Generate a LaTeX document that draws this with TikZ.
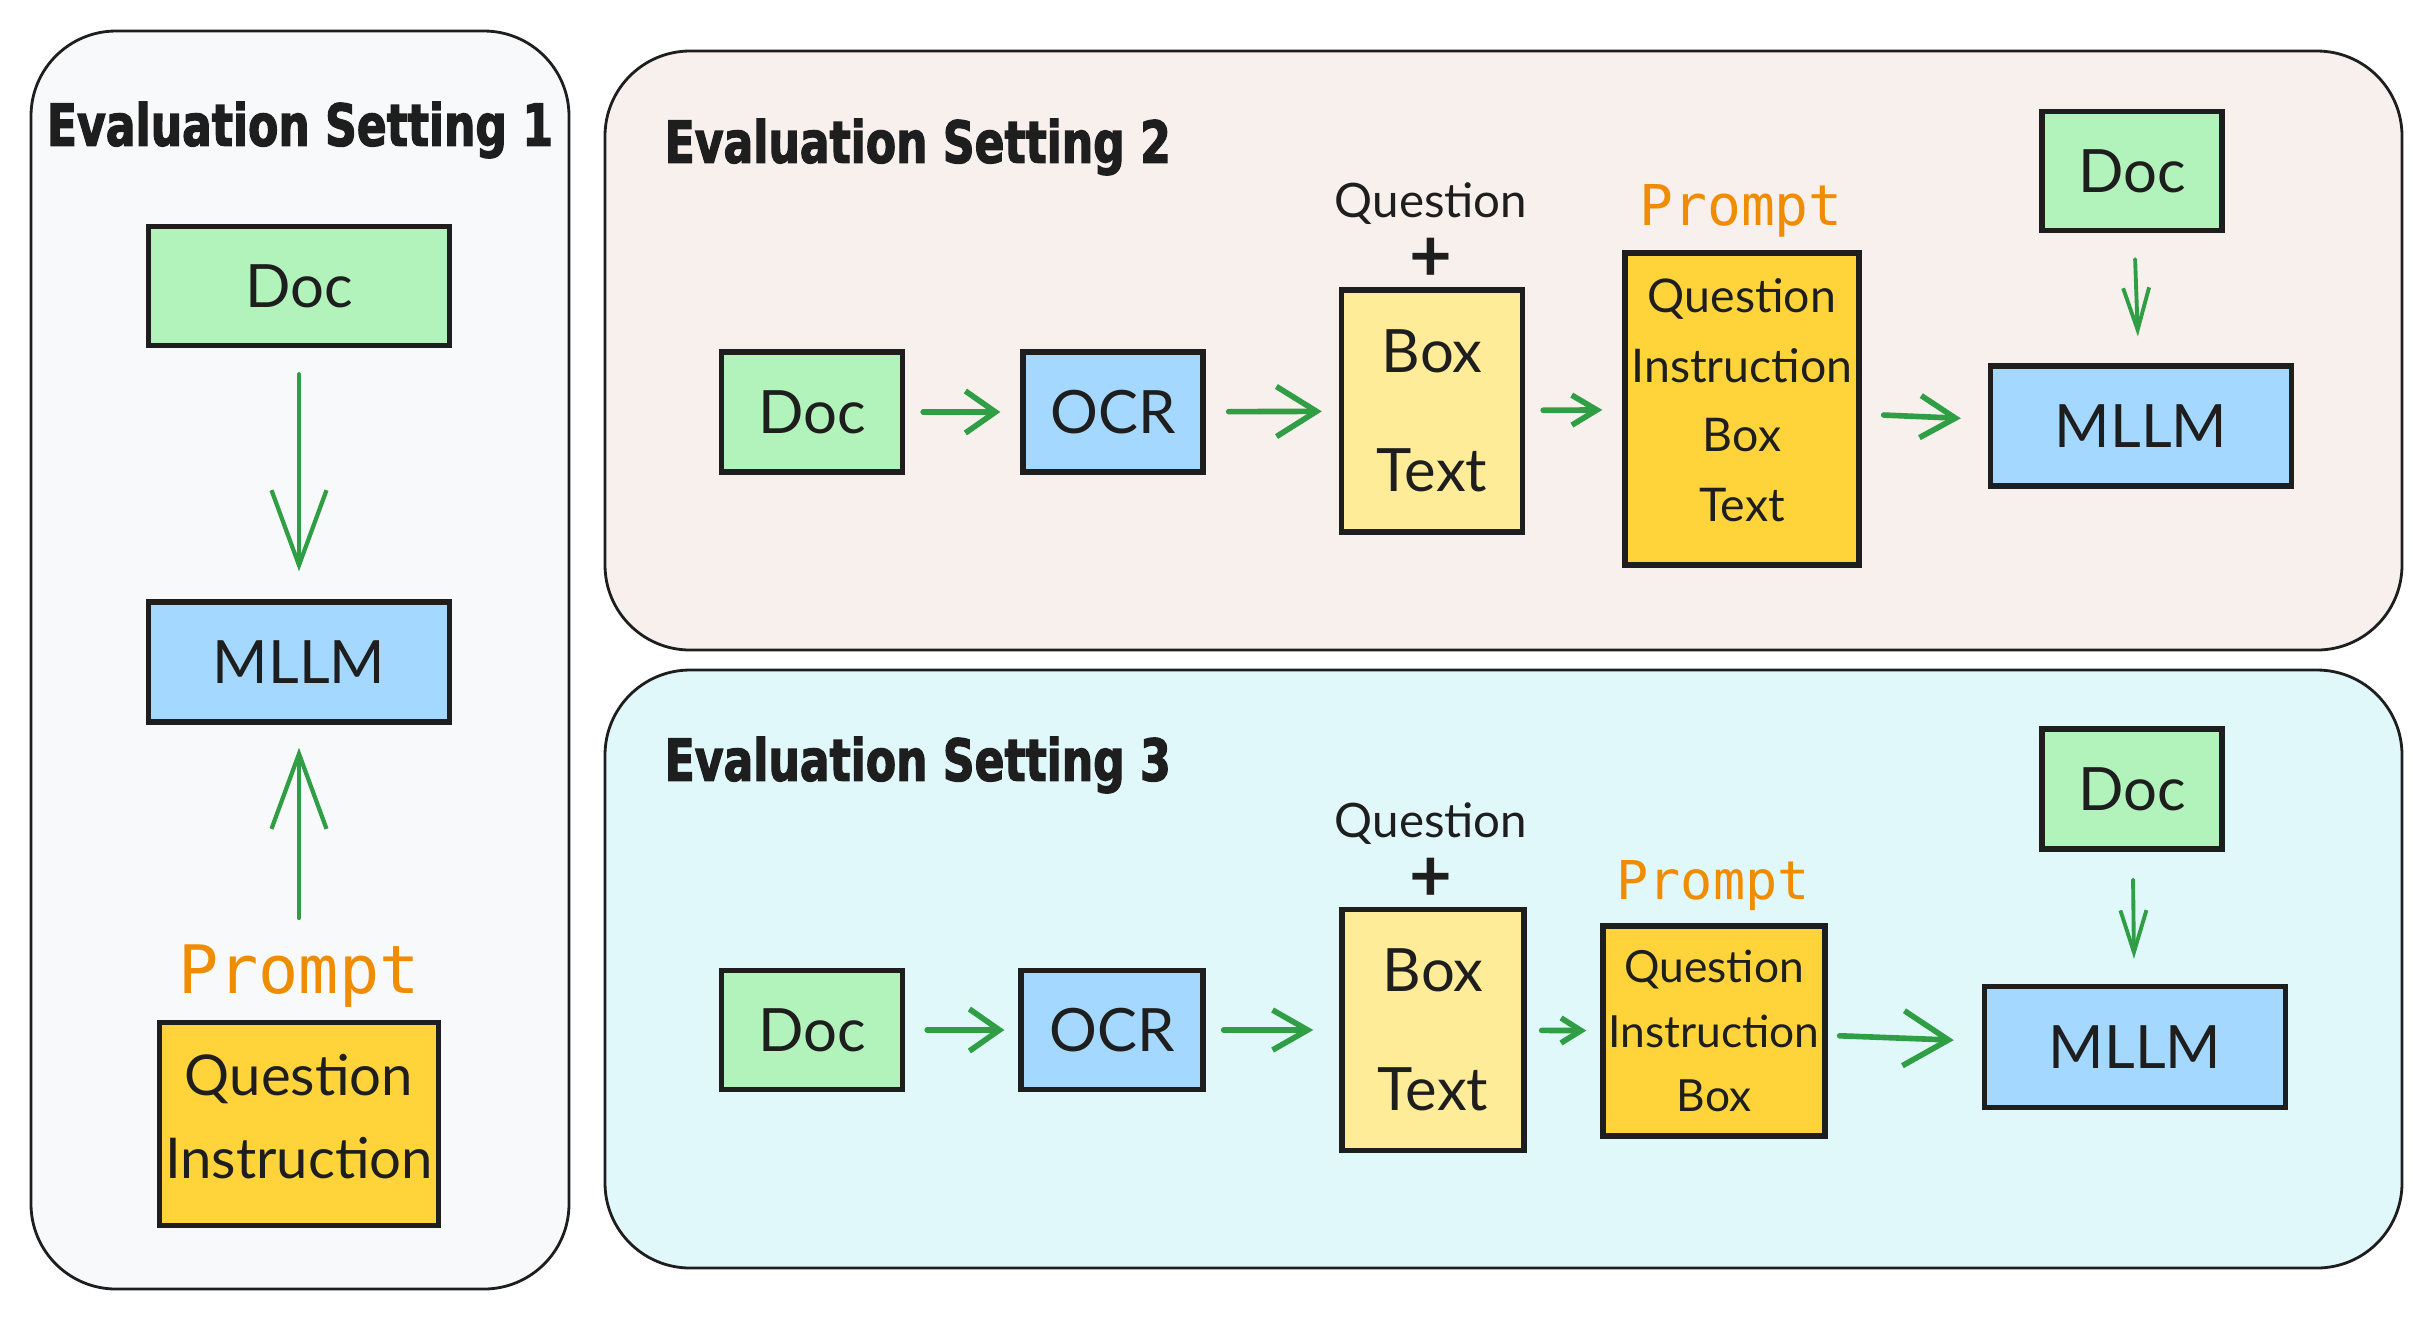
\documentclass[tikz,border=0pt]{standalone}
\usepackage{fontspec}
\setmainfont{Lato}
\newfontfamily\titlefont{DejaVu Sans}[FakeStretch=0.76, BoldFeatures={FakeBold=2}]
\newfontfamily\promptfont{DejaVu Sans Mono}
\usetikzlibrary{arrows.meta}

\definecolor{ink}{HTML}{1E1E1E}
\definecolor{docgreen}{HTML}{B2F2BB}
\definecolor{llmblue}{HTML}{A5D8FF}
\definecolor{pairyellow}{HTML}{FFEC99}
\definecolor{promptyellow}{HTML}{FFD43B}
\definecolor{flowgreen}{HTML}{2F9E44}
\definecolor{promptorange}{HTML}{F08C00}
\definecolor{panelgrey}{HTML}{F8F9FA}
\definecolor{panelrose}{HTML}{F8F0ED}
\definecolor{panelcyan}{HTML}{E0F8FA}

\begin{document}
\begin{tikzpicture}[x=0.01cm, y=-0.01cm,
    box/.style={draw=ink, line width=1.5pt, inner sep=0pt, align=center, text=ink},
    doc/.style={box, fill=docgreen, font=\fontsize{17}{20}\selectfont},
    model/.style={box, fill=llmblue, font=\fontsize{17}{20}\selectfont},
    pair/.style={box, fill=pairyellow, font=\fontsize{17}{34}\selectfont},
    prompt/.style={box, fill=promptyellow},
    plabel/.style={text=promptorange, inner sep=0pt},
    above/.style={text=ink, align=center, inner sep=0pt, font=\fontsize{13.5}{15}\selectfont},
    title/.style={text=ink, inner sep=0pt, font=\titlefont\bfseries\fontsize{16.5}{18}\selectfont},
    panel/.style={draw=ink, line width=0.8pt, rounded corners=0.85cm},
    flow/.style={draw=flowgreen, line width=1.6pt, line cap=round,
        shorten <=0.18cm, shorten >=0.2cm, -{Straight Barb[length=0.3cm, width=0.42cm]}},
    drop/.style={flow, line width=1.1pt, shorten <=0.26cm, shorten >=0.27cm,
        -{Straight Barb[length=0.42cm, width=0.26cm]}}]
    \useasboundingbox (0,0) rectangle (2433,1320);

    % Panels
    \draw[panel, fill=panelgrey] (31,31) rectangle (569,1289);
    \draw[panel, fill=panelrose] (605,51) rectangle (2402,650);
    \draw[panel, fill=panelcyan] (605,670) rectangle (2402,1268);

    % Setting 1
    \node[title] (t1) at (300,130) {Evaluation Setting 1};
    \node[doc, minimum width=3.01cm, minimum height=1.19cm] (doc1) at (299,286) {Doc};
    \node[model, minimum width=3.01cm, minimum height=1.2cm] (llm1) at (299,662) {MLLM};
    \node[plabel, font=\promptfont\fontsize{19}{21}\selectfont] (p1) at (299,976) {Prompt};
    \node[prompt, minimum width=2.79cm, minimum height=2.03cm, text depth=0.16cm,
        font=\fontsize{16}{23.6}\selectfont] (qi1) at (299,1124) {Question\\Instruction};
    \draw[drop, line width=1.2pt, shorten >=0.28cm,
        -{Straight Barb[length=0.75cm, width=0.55cm]}] (doc1) -- (llm1);
    \draw[drop, line width=1.2pt, shorten <=0.26cm, shorten >=0.23cm,
        -{Straight Barb[length=0.75cm, width=0.55cm]}] (p1) -- (llm1);

    % Setting 2
    \node[title, anchor=west] (t2) at (664,147) {Evaluation Setting 2};
    \node[doc, minimum width=1.81cm, minimum height=1.2cm] (doc2) at (812,412) {Doc};
    \node[model, minimum width=1.8cm, minimum height=1.2cm] (ocr2) at (1113,412) {OCR};
    \node[pair, minimum width=1.81cm, minimum height=2.42cm] (bt2) at (1432,411) {Box\\Text};
    \node[above] (q2) at (1431,232) {Question\\[3pt]{\bfseries\fontsize{21}{15}\selectfont +}};
    \node[plabel, font=\promptfont\fontsize{16}{18}\selectfont] (p2) at (1741,211) {Prompt};
    \node[prompt, minimum width=2.34cm, minimum height=3.12cm, text depth=0.18cm,
        font=\fontsize{13.2}{19.8}\selectfont] (pr2) at (1742,409) {Question\\Instruction\\Box\\Text};
    \node[doc, minimum width=1.8cm, minimum height=1.19cm] (img2) at (2132,171) {Doc};
    \node[model, minimum width=3.01cm, minimum height=1.2cm] (llm2) at (2141,426) {MLLM};
    \draw[flow] (doc2) -- (ocr2);
    \draw[flow, shorten <=0.23cm, shorten >=0.17cm, -{Straight Barb[length=0.4cm, width=0.5cm]}] (ocr2) -- (bt2);
    \draw[flow, -{Straight Barb[length=0.25cm, width=0.3cm]}] (bt2) -- (pr2);
    \draw[flow, shorten <=0.22cm, shorten >=0.27cm, -{Straight Barb[length=0.35cm, width=0.42cm]}] (pr2) -- (llm2);
    \draw[drop] (img2) -- (llm2);

    % Setting 3
    \node[title, anchor=west] (t3) at (664,765) {Evaluation Setting 3};
    \node[doc, minimum width=1.81cm, minimum height=1.19cm] (doc3) at (812,1030) {Doc};
    \node[model, minimum width=1.82cm, minimum height=1.19cm] (ocr3) at (1112,1030) {OCR};
    \node[pair, minimum width=1.82cm, minimum height=2.41cm] (bt3) at (1433,1030) {Box\\Text};
    \node[above] (q3) at (1431,852) {Question\\[3pt]{\bfseries\fontsize{21}{15}\selectfont +}};
    \node[plabel, font=\promptfont\fontsize{15.2}{17}\selectfont] (p3) at (1713,886) {Prompt};
    \node[prompt, minimum width=2.22cm, minimum height=2.1cm,
        font=\fontsize{12.6}{18.4}\selectfont] (pr3) at (1714,1031) {Question\\Instruction\\Box};
    \node[doc, minimum width=1.8cm, minimum height=1.2cm] (img3) at (2132,789) {Doc};
    \node[model, minimum width=3.01cm, minimum height=1.21cm] (llm3) at (2135,1047) {MLLM};
    \draw[flow, shorten <=0.22cm, shorten >=0.14cm] (doc3) -- (ocr3);
    \draw[flow, shorten >=0.26cm, -{Straight Barb[length=0.35cm, width=0.4cm]}] (ocr3) -- (bt3);
    \draw[flow, shorten <=0.15cm, shorten >=0.14cm, -{Straight Barb[length=0.2cm, width=0.25cm]}] (bt3) -- (pr3);
    \draw[flow, shorten <=0.12cm, shorten >=0.28cm, -{Straight Barb[length=0.45cm, width=0.55cm]}] (pr3) -- (llm3);
    \draw[drop, shorten <=0.28cm, shorten >=0.25cm] (img3) -- (llm3);
\end{tikzpicture}
\end{document}
